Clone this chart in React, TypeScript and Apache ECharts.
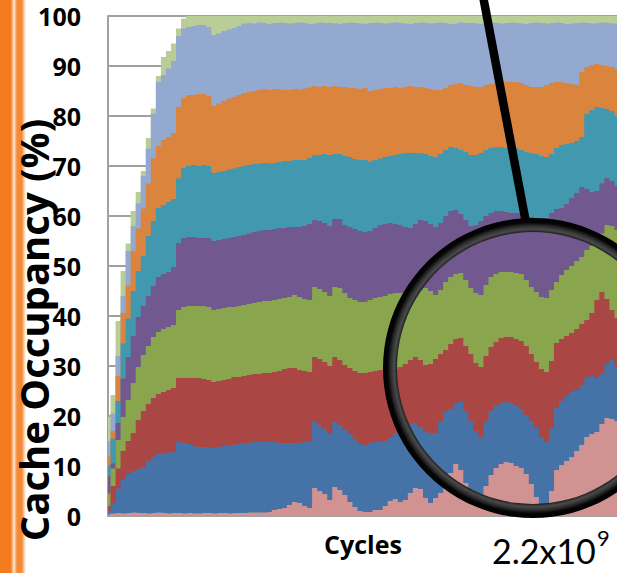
import React, { useEffect, useRef } from "react";
import * as echarts from "echarts";

// Cumulative occupancy (%) at the top of each layer, sampled along the cycle axis
const lightGreenTop = [
  19.8, 24.2, 39, 49, 54.5, 61, 64.8, 69, 75.6, 81.5, 88, 91.8, 93, 94.5, 97.5, 99.5,
  100, 100, 100, 100, 100, 100, 100, 100, 100, 100,
  100, 100, 100, 100, 100, 100, 100, 100, 100, 100,
  100, 100, 100, 100, 100, 100, 100, 100, 100, 100,
  100, 100, 100, 100, 100, 100, 100, 100, 100, 100,
  100, 100, 100, 100, 100, 100, 100, 100, 100, 100,
  100, 100, 100, 100, 100, 100, 100, 100, 100, 100,
  100, 100, 100, 100, 100, 100, 100, 100, 100, 100,
  100, 100, 100, 100, 100, 100, 100, 100, 100, 100,
  100, 100, 100, 100, 100, 100,
];
const lightBlueTop = [
  15, 20.5, 32, 44, 53, 58, 62.5, 68, 73.5, 80.5, 86.8, 88.2, 89.5, 91, 96, 97.5,
  97.8, 98, 98.2, 98.2, 97.8, 96.2, 96.5, 97, 97.3, 97.6, 98, 98.5,
  98.6, 98.5, 98.7, 98.6, 98.4, 98.6, 98.7, 98.6, 98.5, 98.6,
  98.7, 98.6, 98.4, 98.5, 98.7, 98.6, 98.6, 98.5, 98.4, 98.6,
  98.7, 98.6, 98.5, 98.4, 98.6, 98.7, 98.6, 98.5, 98.6, 98.7,
  98.6, 98.5, 98.4, 98.6, 98.7, 98.6, 98.5, 98.6, 98.7, 98.6,
  98.4, 98.5, 98.7, 98.6, 98.6, 98.5, 98.4, 98.6, 98.7, 98.6,
  98.5, 98.6, 98.7, 98.6, 98.5, 98.4, 98.6, 98.7, 98.6, 98.5,
  98.6, 98.7, 98.6, 98.4, 98.5, 98.6, 98.7, 98.6, 98.5, 98.6,
  98.7, 98.6, 98.5, 98.6,
];
const orangeTop = [
  12, 17, 28, 40.6, 46, 53, 57.5, 61.5, 66.5, 71.5, 74, 75.2, 75.8, 76.6, 81.8, 83.6,
  84.2, 84.2, 84.4, 84.4, 84, 82, 82.5, 83, 83.5, 83.8,
  84.2, 84.6, 84.8, 85, 85.2, 85.4, 85.2, 85.4, 85.3, 85.2,
  85.2, 85.4, 85.3, 85.5, 85.7, 86, 85.8, 86, 85.8, 86,
  85.8, 85.8, 85.6, 85.6, 85.4, 85.6, 85, 85.2, 85.4, 85.6,
  85.6, 85.8, 85.6, 85.8, 86, 85.8, 85.8, 85.6, 85.4, 85.2,
  85.2, 85.6, 86.2, 86.4, 86.6, 86.2, 86, 85.8, 85.8, 86.2,
  86.4, 86.6, 86.6, 86.8, 86.8, 86.8, 86.6, 86.2, 85.8, 85.8,
  85.8, 86.2, 86.6, 86.8, 86.8, 86.6, 86.4, 86.2, 88.8, 89.8,
  90.2, 90.4, 90.2, 90, 89.8, 89.4,
];
const tealTop = [
  10, 15.5, 23, 34.5, 39.5, 45, 49, 52, 56, 59, 61.6, 62.2, 62.8, 63.4, 67.5, 69.6,
  70, 70.2, 70, 70.2, 70, 68.6, 68.8, 69, 69.3, 69.5,
  69.8, 70, 70.2, 70.4, 70.5, 70.6, 70.5, 70.6, 70.8, 71,
  71, 71.2, 71.2, 71.2, 71.6, 72.2, 72.2, 72.4, 72.2, 72.4,
  72.4, 72, 71.8, 71.4, 71.2, 71.2, 70.9, 71.2, 71.5, 71.8,
  72, 72.2, 72.4, 72.6, 72.6, 72.6, 72.6, 72.4, 72, 71.8,
  72.4, 73.2, 73.8, 73.6, 73.2, 72.8, 72.2, 72.2, 72.6, 73.2,
  73.6, 73.8, 73.8, 73.6, 73.8, 73.6, 73.2, 72.8, 72.6, 72.4,
  72, 71.8, 72.4, 73.6, 74.2, 74.4, 74.6, 75, 75.8, 80.4,
  81.2, 81.8, 81.6, 81.4, 81, 80,
];
const purpleTop = [
  8, 10.5, 18.6, 27.5, 31.8, 36, 39.8, 42, 44, 46, 47.8, 48.4, 48.8, 49.8, 54.6, 55.6,
  55.8, 55.8, 55.6, 55.6, 55.6, 55, 55.2, 55.4, 55.6, 55.8,
  56, 56.2, 56.5, 56.8, 57, 57.2, 57.2, 57.4, 57.6, 57.6,
  57.8, 57.8, 57.8, 58, 58.4, 59.2, 59, 58.6, 58, 59.4,
  59.4, 58.2, 57.8, 57.4, 57, 56.8, 57, 57.6, 58.2, 58.4,
  58.6, 58.4, 58.2, 57.8, 57.6, 58.4, 59.2, 59, 58.4, 57.8,
  58.6, 60, 61, 61.2, 60.4, 59.2, 58, 58.2, 59, 60,
  60.6, 61, 61, 60.8, 60.6, 60.6, 60.6, 60.2, 59.8, 59.4,
  59.2, 59.6, 60.6, 61.4, 61.6, 62.4, 63.6, 64.6, 65.8, 65.4,
  64.8, 65, 66.5, 67.6, 67, 66,
];
const greenTop = [
  4.5, 9.5, 15.2, 19.8, 23.2, 26.6, 29.8, 32.2, 34, 35.8, 36.8, 37.4, 37.8, 38.2, 41.2, 41.8,
  42, 42, 42, 42, 41.8, 41.2, 41.4, 41.6, 41.8, 41.8,
  42, 42.2, 42.4, 42.6, 42.8, 43, 43, 43.2, 43.4, 43.6,
  43.8, 44.2, 43.8, 43.4, 43.2, 45.8, 45.4, 44.8, 44, 45.8,
  45.6, 44.6, 43.6, 43.2, 42.8, 42.8, 43.2, 43.6, 43.8, 44,
  44.4, 44.6, 44.6, 44.8, 44.6, 44.6, 45.2, 45.6, 45, 44.2,
  45.2, 46.8, 47.8, 48.4, 48.6, 47.2, 45.6, 44.6, 44.2, 46.2,
  47.8, 48.4, 48.8, 48.8, 48.8, 48.6, 48.4, 47.2, 45.8, 44.8,
  43.8, 43.6, 45.2, 46.8, 48.2, 49.2, 50, 51, 51.8, 53.2,
  54, 54.6, 56.5, 58.2, 58, 57.2,
];
const redTop = [
  2, 6, 9.5, 13, 15, 16.6, 19.2, 21, 22.4, 23.6, 24.4, 24.8, 25.2, 25.6, 27.6, 27.6,
  27.6, 27.6, 27.6, 27.4, 27.2, 26.8, 27, 27.2, 27.4, 27.8,
  27.8, 28, 28.2, 28.4, 28.4, 28.6, 28.6, 28.8, 29, 29.4,
  29.6, 29.6, 29.2, 29, 28.8, 31.8, 31.4, 30.8, 30, 31.8,
  31.2, 30.2, 29.6, 29, 28.6, 28.6, 28.8, 29, 29.2, 29.2,
  29.2, 29.4, 29.8, 30.4, 31.2, 31.8, 31.2, 30.2, 30.4, 31.4,
  32.4, 33.2, 34.4, 35.4, 35.6, 34, 32.4, 30.6, 29.8, 32,
  33.8, 34.8, 35.6, 35.8, 35.8, 35.4, 35, 34, 32.4, 30.8,
  29.4, 28.8, 31, 34.6, 35.4, 36, 36.6, 37.4, 38.4, 39.2,
  40.6, 43.2, 44.8, 43.4, 41.2, 39.6,
];
const blueTop = [
  1, 2.6, 5.5, 7.2, 8.4, 9, 9.4, 9.8, 11, 11.8, 12.4, 12.6, 12.7, 12.8, 14.8, 14.6,
  14.4, 14, 13.8, 13.8, 13.8, 13.6, 13.8, 14, 14.2, 14.2,
  14.4, 14.6, 14.6, 14.8, 14.8, 14.8, 14.8, 14.8, 14.6, 14.6,
  14.6, 14.6, 14.6, 14.8, 14.8, 18.8, 18.2, 17.4, 16.4, 18.8,
  18.2, 17.2, 16.4, 15.4, 14.4, 14.2, 14.6, 14.8, 14.8, 15,
  15.6, 16.6, 17.2, 17.8, 18.4, 18.6, 17.8, 16.8, 16.6, 16.6,
  18.8, 20.8, 21.4, 22.4, 22.8, 21, 19, 17, 15.8, 19,
  21, 22, 22.6, 22.8, 22.6, 22, 21.4, 20.2, 19, 17.6,
  15.8, 14.8, 17.5, 21.6, 23, 24, 24.8, 25.2, 26.2, 27.8,
  28, 27.6, 28.6, 30.4, 31.2, 29.8,
];
const pinkTop = [
  0.3, 0.5, 0.6, 0.5, 0.6, 0.7, 0.6, 0.6, 0.5, 0.6, 0.7, 0.6, 0.5, 0.6, 0.6, 0.5,
  0.6, 0.5, 0.5, 0.6, 0.6, 0.5, 0.6, 0.6, 0.5, 0.6,
  0.6, 0.6, 0.7, 0.7, 0.7, 0.7, 0.8, 1.2, 1.4, 1.6,
  2.2, 2.8, 2.6, 2, 1.6, 5.6, 5, 4.4, 3.2, 5.8,
  5.2, 4.2, 2.8, 1.8, 1, 0.8, 0.8, 1.2, 1.2, 2,
  3, 3.4, 2.8, 3.2, 4.6, 5.6, 5.4, 3.6, 2.6, 3.6,
  4.6, 6, 8.6, 10.4, 9.2, 6.6, 4.6, 3.2, 2.6, 6,
  8.2, 9.6, 10.4, 10.8, 10.6, 10, 9.6, 8.4, 6.4, 3.8,
  2.4, 1.8, 5, 9.2, 10.2, 11, 11.8, 13, 14.2, 15.8,
  16.4, 16.8, 18.4, 19.6, 19.4, 19,
];

const layers = [
  { name: "L9", data: lightGreenTop, color: "#B9CD96" },
  { name: "L8", data: lightBlueTop, color: "#93A9CF" },
  { name: "L7", data: orangeTop, color: "#DB843D" },
  { name: "L6", data: tealTop, color: "#4198AF" },
  { name: "L5", data: purpleTop, color: "#71588F" },
  { name: "L4", data: greenTop, color: "#89A54E" },
  { name: "L3", data: redTop, color: "#AA4643" },
  { name: "L2", data: blueTop, color: "#4572A7" },
  { name: "L1", data: pinkTop, color: "#D19392" },
];

const cycleSamples = lightGreenTop.map((_, i) => String(i));

export default function App() {
  const ref = useRef<HTMLDivElement>(null);
  useEffect(() => {
    const chart = echarts.init(ref.current!, null, { renderer: "svg" });
    const option = {
      animation: false,
      backgroundColor: "#fff",
      grid: { left: 108, right: 0, top: 16, bottom: 57, containLabel: false },
      xAxis: {
        type: "category",
        boundaryGap: false,
        data: cycleSamples,
        axisLine: { show: true, lineStyle: { color: "#A0A0A0", width: 2 } },
        axisTick: { show: false },
        axisLabel: { show: false },
        splitLine: { show: false },
      },
      yAxis: {
        type: "value",
        min: 0,
        max: 100,
        interval: 10,
        axisLine: { show: true, lineStyle: { color: "#A0A0A0", width: 2 } },
        axisTick: { show: false },
        splitLine: { show: true, lineStyle: { color: "#A0A0A0", width: 2 } },
        axisLabel: {
          color: "#000",
          fontSize: 25,
          fontWeight: "bold",
          fontFamily: "Open Sans",
          margin: 27,
          padding: [5, 0, 0, 0],
        },
      },
      series: layers.map((l) => ({
        name: l.name,
        type: "line",
        data: l.data,
        step: "middle",
        showSymbol: false,
        silent: true,
        lineStyle: { width: 0, color: l.color },
        itemStyle: { color: l.color },
        areaStyle: { color: l.color, opacity: 1 },
      })),
      graphic: [
        {
          type: "rect",
          z: 10,
          shape: { x: 0, y: 0, width: 26, height: 573 },
          style: {
            fill: new echarts.graphic.LinearGradient(0, 0, 1, 0, [
              { offset: 0, color: "#F47B20" },
              { offset: 0.4, color: "#F47B20" },
              { offset: 0.47, color: "#F8A868" },
              { offset: 0.54, color: "#FDEEE0" },
              { offset: 0.61, color: "#F8A868" },
              { offset: 0.67, color: "#F58A35" },
              { offset: 0.84, color: "#F58A35" },
              { offset: 0.92, color: "#FAC9A0" },
              { offset: 1, color: "#FFFFFF" },
            ]),
          },
        },
        {
          type: "text",
          z: 10,
          x: 33,
          y: 330,
          rotation: Math.PI / 2,
          style: {
            text: "Cache Occupancy (%)",
            font: 'bold 40px "Open Sans"',
            fill: "#000",
            align: "center",
            verticalAlign: "middle",
            textAlign: "center",
            textVerticalAlign: "middle",
          },
        },
        {
          type: "text",
          z: 10,
          x: 363,
          y: 544,
          style: {
            text: "Cycles",
            font: 'bold 25px "Open Sans"',
            fill: "#000",
            align: "center",
            verticalAlign: "middle",
            textAlign: "center",
            textVerticalAlign: "middle",
          },
        },
        {
          type: "text",
          z: 10,
          x: 492,
          y: 550,
          style: {
            text: "2.2x10",
            font: '34px Lato',
            fill: "#000",
            align: "left",
            verticalAlign: "middle",
            textAlign: "left",
            textVerticalAlign: "middle",
          },
        },
        {
          type: "text",
          z: 10,
          x: 597,
          y: 537,
          style: {
            text: "9",
            font: '22px Lato',
            fill: "#000",
            align: "left",
            verticalAlign: "middle",
            textAlign: "left",
            textVerticalAlign: "middle",
          },
        },
        {
          type: "line",
          z: 100,
          shape: { x1: 483, y1: -4, x2: 527, y2: 228 },
          style: { stroke: "#000", lineWidth: 8.5 },
        },
        {
          type: "ring",
          z: 101,
          shape: { cx: 533, cy: 368, r: 150, r0: 136 },
          style: {
            fill: new echarts.graphic.RadialGradient(0.5, 0.5, 0.5, [
              { offset: 0, color: "#000" },
              { offset: 0.9, color: "#111" },
              { offset: 0.925, color: "#4a4a4a" },
              { offset: 0.95, color: "#2a2a2a" },
              { offset: 0.97, color: "#050505" },
              { offset: 1, color: "#000" },
            ]),
          },
        },
      ],
    };
    chart.setOption(option as any);
    return () => chart.dispose();
  }, []);
  return (
    <div
      ref={ref}
      style={{ position: "fixed", left: 0, top: 0, width: 617, height: 573, background: "#fff" }}
    />
  );
}
